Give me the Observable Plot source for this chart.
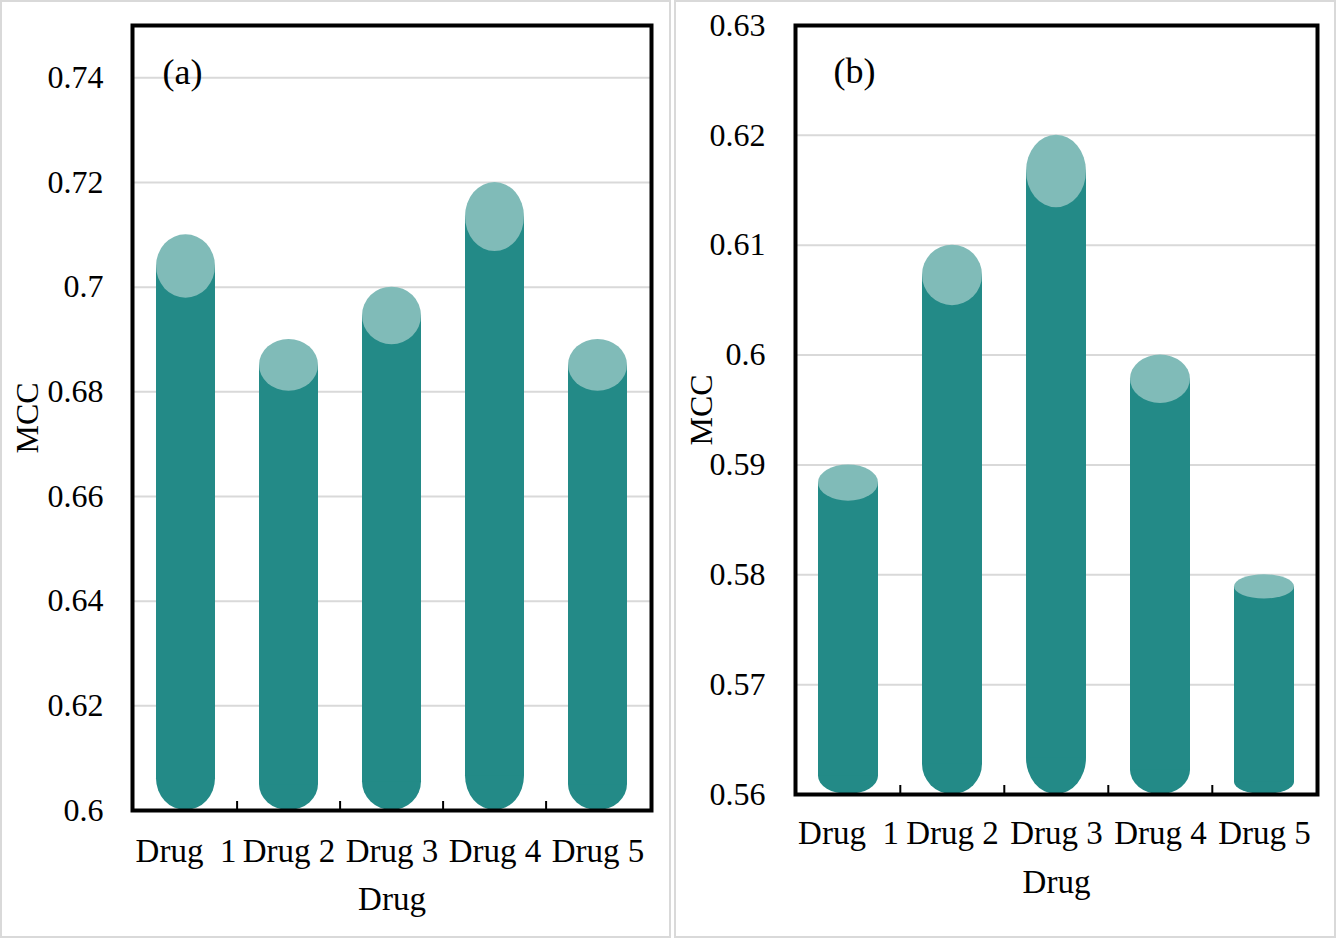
<!DOCTYPE html>
<html>
<head>
<meta charset="utf-8">
<script src="https://cdn.jsdelivr.net/npm/d3@7"></script>
<script src="https://cdn.jsdelivr.net/npm/@observablehq/plot@0.6"></script>
<style>
  html, body { margin: 0; padding: 0; background: #fff; }
  #wrap { position: relative; width: 1337px; height: 938px; overflow: hidden; }
  .panel { position: absolute; top: 0; }
  .border { position: absolute; box-sizing: border-box; border: 2px solid #d9d9d9; pointer-events: none; }
</style>
</head>
<body>
<div id="wrap">
  <div class="panel" id="pa" style="left:0px"></div>
  <div class="panel" id="pb" style="left:675px"></div>
  <div class="border" style="left:0px;top:0px;width:671px;height:938px"></div>
  <div class="border" style="left:674px;top:0px;width:662px;height:938px"></div>
</div>
<script>
// ---- data ----
const categories = ["Drug 1", "Drug 2", "Drug 3", "Drug 4", "Drug 5"];
const xTickLabels = ["Drug\u00a0\u00a01", "Drug 2", "Drug 3", "Drug 4", "Drug 5"];
const mccA = [0.71, 0.69, 0.70, 0.72, 0.69];
const mccB = [0.59, 0.61, 0.62, 0.60, 0.58];
const yTicksA = [0.6, 0.62, 0.64, 0.66, 0.68, 0.7, 0.72, 0.74];
const yTicksB = [0.56, 0.57, 0.58, 0.59, 0.6, 0.61, 0.62, 0.63];
const yDomainA = [0.6, 0.75];
const yDomainB = [0.56, 0.63];
const xTitle = "Drug";
const yTitle = "MCC";

// ---- style ----
const DARK = "#238a87";
const LIGHT = "#80bbb8";
const GRID = "#d9d9d9";
const CAP = 0.11; // cylinder cap depth relative to bar height
const FONT = "'Liberation Serif', 'Times New Roman', serif";

function panel(o) {
  const m = o.yDomain[0];
  const rows = categories.map((c, i) => ({drug: c, v: o.values[i], label: xTickLabels[i]}));
  const cap = d => CAP * (d.v - m);
  const innerW = o.width - o.marginLeft - o.marginRight;
  const step = innerW / categories.length;
  return Plot.plot({
    width: o.width,
    height: 938,
    marginLeft: o.marginLeft,
    marginRight: o.marginRight,
    marginTop: 25,
    marginBottom: o.marginBottom,
    style: {fontFamily: FONT, fontSize: "32px", color: "black", background: "transparent"},
    x: {domain: categories, paddingInner: o.padInner, paddingOuter: o.padInner / 2, axis: null},
    y: {domain: o.yDomain, axis: null},
    marks: [
      Plot.ruleY(o.yTicks.slice(1), {y: d => d, stroke: GRID, strokeWidth: 2}),
      Plot.barY(rows, {x: "drug", y1: m, y2: d => m + cap(d), fill: DARK, rx: 1000, ry: 1000}),
      Plot.barY(rows, {x: "drug", y1: d => m + cap(d) / 2, y2: d => d.v - cap(d) / 2, fill: DARK}),
      Plot.barY(rows, {x: "drug", y1: d => d.v - cap(d), y2: "v", fill: LIGHT, rx: 1000, ry: 1000}),
      Plot.ruleX(categories.slice(1), {x: d => d, dx: -step / 2, y1: m, y2: m, insetBottom: 9, stroke: "black", strokeWidth: 2}),
      Plot.frame({stroke: "black", strokeWidth: 4}),
      Plot.text(o.yTicks, {y: d => d, frameAnchor: "left", dx: o.yTickDx, textAnchor: "end", lineAnchor: "middle", text: d => String(d), fill: "black", fontSize: 32}),
      Plot.text(rows, {x: "drug", y: m, dy: o.xLabelDy, text: "label", lineAnchor: "middle", fill: "black", fontSize: 33}),
      Plot.text([xTitle], {frameAnchor: "bottom", dy: o.xTitleDy, textAnchor: "middle", lineAnchor: "middle", text: d => d, fill: "black", fontSize: 33}),
      Plot.text([yTitle], {frameAnchor: "left", dx: o.yTitleDx, rotate: -90, textAnchor: "middle", lineAnchor: "middle", text: d => d, fill: "black", fontSize: 32}),
      Plot.text([o.tag], {frameAnchor: "top-left", dx: o.tagDx, dy: o.tagDy, textAnchor: "start", lineAnchor: "middle", text: d => d, fill: "black", fontSize: 36})
    ]
  });
}

document.getElementById("pa").appendChild(panel({
  values: mccA, yDomain: yDomainA, yTicks: yTicksA,
  width: 670, marginLeft: 132, marginRight: 19, marginBottom: 128,
  padInner: 0.432, yTickDx: -29, xLabelDy: 41, xTitleDy: 89, yTitleDx: -105,
  tag: "(a)", tagDx: 30, tagDy: 47
}));
document.getElementById("pb").appendChild(panel({
  values: mccB, yDomain: yDomainB, yTicks: yTicksB,
  width: 662, marginLeft: 120, marginRight: 20, marginBottom: 144,
  padInner: 0.425, yTickDx: -30, xLabelDy: 39, xTitleDy: 88, yTitleDx: -94,
  tag: "(b)", tagDx: 38, tagDy: 46
}));
</script>
</body>
</html>
